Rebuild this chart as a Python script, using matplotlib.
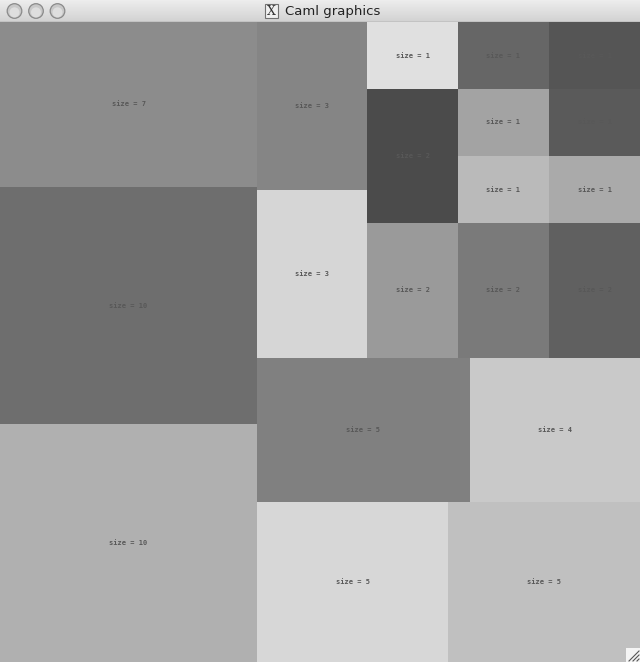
import numpy as np
import matplotlib
matplotlib.use("Agg")
import matplotlib.pyplot as plt
from matplotlib.patches import Rectangle, Circle

# ---- data: nested treemap of sizes (alternating horizontal / vertical splits)
left_group = [7, 10, 10]
top_columns = [[3, 3], [1, 2, 2], [1, 1, 1, 2], [1, 1, 1, 2]]
row_a = [5, 4]
row_b = [5, 5]
tree = [left_group, [top_columns, row_a, row_b]]

# ---- style: grey level of each leaf in depth-first order
leaf_greys = ["#8c8c8c", "#6e6e6e", "#b0b0b0",
              "#858585", "#d6d6d6",
              "#e0e0e0", "#4b4b4b", "#9a9a9a",
              "#666666", "#a3a3a3", "#bababa", "#7a7a7a",
              "#555555", "#5a5a5a", "#aaaaaa", "#606060",
              "#808080", "#c9c9c9",
              "#d7d7d7", "#c0c0c0"]

W, H, BAR = 640, 640, 22


def total(node):
    return node if not isinstance(node, list) else sum(total(c) for c in node)


def layout(node, x0, y0, x1, y1, depth, out):
    if not isinstance(node, list):
        out.append((x0, y0, x1, y1, node))
        return
    t = total(node)
    acc = 0
    for child in node:
        a0 = acc / t
        acc += total(child)
        a1 = acc / t
        if depth % 2 == 0:
            layout(child, x0 + (x1 - x0) * a0, y0, x0 + (x1 - x0) * a1, y1, depth + 1, out)
        else:
            layout(child, x0, y0 + (y1 - y0) * a0, x1, y0 + (y1 - y0) * a1, depth + 1, out)


cells = []
layout(tree, 0, 0, W, H, 0, cells)

fig = plt.figure(figsize=(6.40, 6.62), dpi=100)
fig.patch.set_facecolor("#d6d6d6")

ax = fig.add_axes([0, 0, 1, H / (H + BAR)])
ax.set_xlim(0, W)
ax.set_ylim(H, 0)
ax.axis("off")
for (x0, y0, x1, y1, v), g in zip(cells, leaf_greys):
    fx0, fy0, fx1, fy1 = np.floor([x0, y0, x1, y1])
    if x1 >= W:
        fx1 = W
    if y1 >= H:
        fy1 = H
    ax.add_patch(Rectangle((fx0, fy0), fx1 - fx0, fy1 - fy0, facecolor=g,
                           edgecolor="none", linewidth=0, antialiased=False))
    ax.text((fx0 + fx1) / 2, (fy0 + fy1) / 2, f"size = {v}", ha="center", va="center",
            fontsize=5, family="DejaVu Sans Mono", weight="bold", color="#585858")

# resize grip
ax.add_patch(Rectangle((626, 626), 14, 14, facecolor="#f4f4f4", edgecolor="none"))
for d in (0, 4, 8):
    ax.plot([629 + d, 639], [639, 629 + d], color="#555555", lw=0.8)

# ---- window title bar
tb = fig.add_axes([0, H / (H + BAR), 1, BAR / (H + BAR)])
tb.set_xlim(0, W)
tb.set_ylim(BAR, 0)
tb.axis("off")
grad = np.linspace(0.93, 0.82, 50).reshape(-1, 1)
tb.imshow(grad, cmap="gray", vmin=0, vmax=1, extent=(0, W, BAR, 0), aspect="auto")
tb.plot([0, W], [BAR - 0.5, BAR - 0.5], color="#8a8a8a", lw=1)
for cx in (14.5, 36, 57.5):
    tb.add_patch(Circle((cx, 11), 7.3, facecolor="#c8c8c8", edgecolor="#8a8a8a", lw=0.9))
    tb.add_patch(Circle((cx, 12.3), 5.0, facecolor="#dedede", edgecolor="none"))
tb.add_patch(Rectangle((265, 4), 13, 14, facecolor="#f0f0f0", edgecolor="#707070", lw=0.8))
tb.text(271.5, 11.5, "X", ha="center", va="center", fontsize=9, family="DejaVu Serif",
        color="#333333")
tb.text(285, 11.5, "Caml graphics", ha="left", va="center", fontsize=9.5,
        family="DejaVu Sans", color="#222222")

fig.savefig("out.png", dpi=100)
